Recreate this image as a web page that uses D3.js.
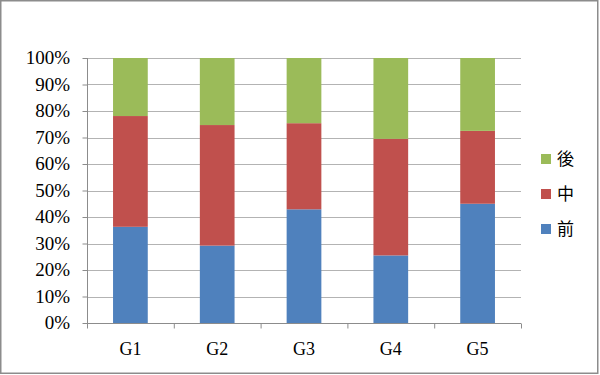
<!DOCTYPE html>
<html>
<head>
<meta charset="utf-8">
<script src="https://cdn.jsdelivr.net/npm/d3@7"></script>
<style>
  body { margin: 0; background: #fff; }
  svg { display: block; }
</style>
</head>
<body>
<div id="chart"></div>
<script>
// Data (percent of each group)
const categories = ['G1', 'G2', 'G3', 'G4', 'G5'];
const seriesNames = ['前', '中', '後'];
const mae = [36.3, 29.2, 42.9, 25.5, 45.0];
const naka = [41.8, 45.5, 32.5, 44.0, 27.5];
const ato = [21.9, 25.3, 24.6, 30.5, 27.5];
const colors = ['#4f81bd', '#c0504d', '#9bbb59'];
const yTicks = [0, 0.1, 0.2, 0.3, 0.4, 0.5, 0.6, 0.7, 0.8, 0.9, 1];

const width = 600, height = 375;
const margin = { top: 58, right: 79, bottom: 52, left: 87 };
const innerWidth = width - margin.left - margin.right;
const innerHeight = height - margin.top - margin.bottom;
const serif = '"Liberation Serif", "DejaVu Serif", serif';

const svg = d3.select('#chart')
    .append('svg')
    .attr('width', width)
    .attr('height', height);

// Outer frame
svg.append('rect')
    .attr('x', 0.75).attr('y', 0.75)
    .attr('width', width - 3).attr('height', height - 2.5)
    .attr('fill', '#fff')
    .attr('stroke', '#8c8c8c')
    .attr('stroke-width', 1.5);

const g = svg.append('g')
    .attr('transform', `translate(${margin.left},${margin.top})`);

// Build table for stacking
const table = categories.map((c, i) => {
    const total = mae[i] + naka[i] + ato[i];
    return { cat: c, '前': mae[i] / total, '中': naka[i] / total, '後': ato[i] / total };
});
const stacked = d3.stack().keys(seriesNames)(table);

const x = d3.scaleBand()
    .domain(categories)
    .range([0, innerWidth])
    .paddingInner(0.6)
    .paddingOuter(0.3);
const xBoundary = d3.scaleLinear().domain([0, categories.length]).range([0, innerWidth]);
const y = d3.scaleLinear().domain([0, 1]).range([innerHeight, 0]);

// Gridlines
g.append('g')
    .selectAll('line')
    .data(yTicks.slice(1))
    .join('line')
    .attr('x1', 0).attr('x2', innerWidth)
    .attr('y1', d => Math.round(y(d)) + 0.5)
    .attr('y2', d => Math.round(y(d)) + 0.5)
    .attr('stroke', '#b3b3b3')
    .attr('stroke-width', 1);

// Bars
const colorScale = d3.scaleOrdinal().domain(seriesNames).range(colors);
g.append('g')
    .selectAll('g')
    .data(stacked)
    .join('g')
    .attr('fill', d => colorScale(d.key))
    .selectAll('rect')
    .data(d => d)
    .join('rect')
    .attr('x', d => x(d.data.cat))
    .attr('y', d => y(d[1]))
    .attr('width', x.bandwidth())
    .attr('height', d => y(d[0]) - y(d[1]));

// Y axis (line + ticks from d3, labels placed from the same scale)
const yAxis = g.append('g')
    .attr('transform', 'translate(0.5,0)')
    .call(d3.axisLeft(y).tickValues(yTicks).tickFormat('').tickSize(5));
yAxis.selectAll('.tick text').remove();
yAxis.select('.domain').attr('stroke', '#8c8c8c').attr('d', `M0,${innerHeight}V0`);
yAxis.selectAll('.tick line').attr('stroke', '#8c8c8c');

const pct = d3.format('.0%');
g.append('g')
    .selectAll('text')
    .data(yTicks)
    .join('text')
    .attr('x', -17)
    .attr('y', d => y(d))
    .attr('dy', '0.34em')
    .attr('text-anchor', 'end')
    .attr('fill', '#000')
    .attr('font-family', serif)
    .attr('font-size', 19)
    .text(d => pct(d));

// X axis (tick marks between categories)
const xAxis = g.append('g')
    .attr('transform', `translate(0,${innerHeight + 0.5})`)
    .call(d3.axisBottom(xBoundary).ticks(categories.length).tickSize(5).tickFormat(''));
xAxis.selectAll('.tick text').remove();
xAxis.select('.domain').attr('stroke', '#8c8c8c').attr('d', `M0,0H${innerWidth}`);
xAxis.selectAll('.tick line').attr('stroke', '#8c8c8c');

g.append('g')
    .selectAll('text')
    .data(categories)
    .join('text')
    .attr('x', d => x(d) + x.bandwidth() / 2)
    .attr('y', innerHeight + 32)
    .attr('text-anchor', 'middle')
    .attr('fill', '#000')
    .attr('font-family', serif)
    .attr('font-size', 18)
    .text(d => d);

// Legend (reverse order, like Excel)
const legendItems = seriesNames.slice().reverse();
const legend = svg.append('g')
    .attr('transform', 'translate(541,159)');
const item = legend.selectAll('g')
    .data(legendItems)
    .join('g')
    .attr('transform', (d, i) => `translate(0,${i * 35})`);
item.append('rect')
    .attr('x', 0).attr('y', -5)
    .attr('width', 10).attr('height', 10)
    .attr('fill', d => colorScale(d));
item.append('text')
    .attr('x', 16)
    .attr('y', 0)
    .attr('dy', '0.36em')
    .attr('fill', '#000')
    .attr('font-family', '"Noto Sans CJK JP", sans-serif')
    .attr('font-size', 17)
    .text(d => d);
</script>
</body>
</html>
